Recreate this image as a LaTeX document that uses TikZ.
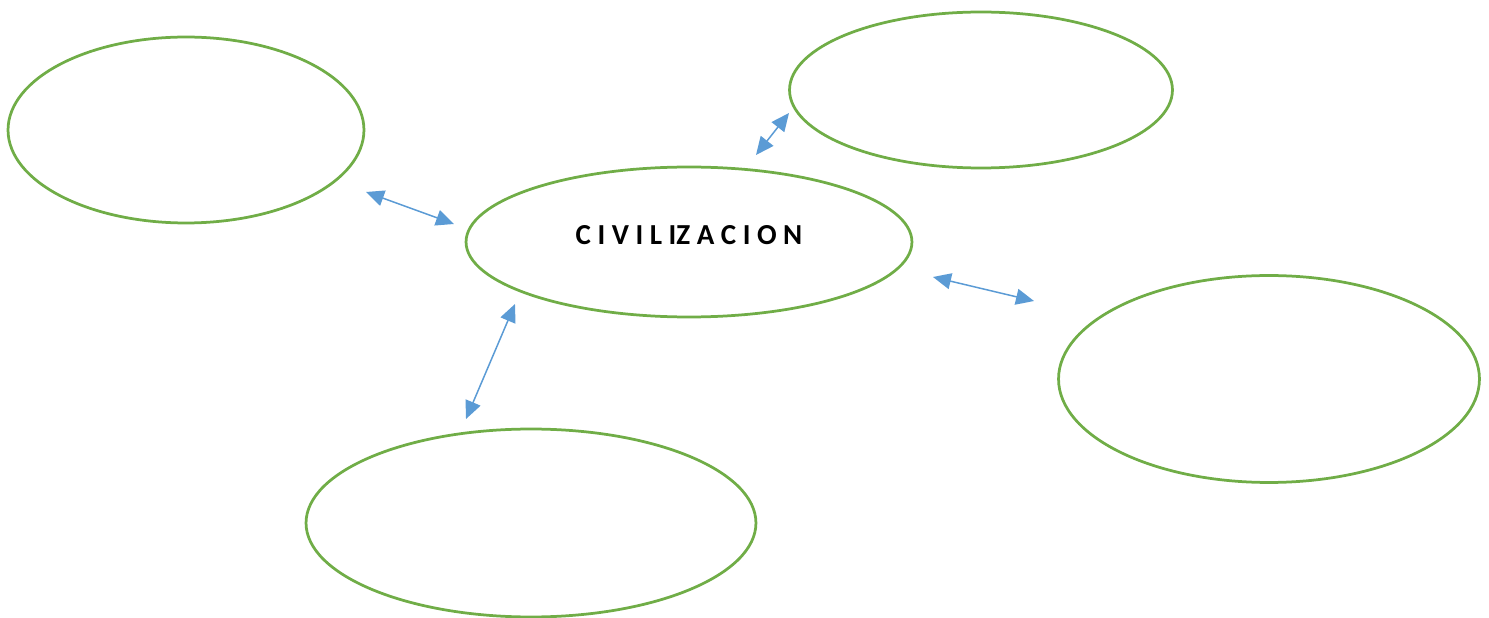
\documentclass[tikz,border=0pt]{standalone}
\usepackage{fontspec}
\setmainfont{Carlito}
\usepackage{tikz}
\usetikzlibrary{shapes.geometric, arrows.meta}
\usepackage{xcolor}

\definecolor{ovalgreen}{HTML}{70AD47}
\definecolor{linkblue}{HTML}{5B9BD5}

\tikzset{
    oval/.style={draw=ovalgreen, line width=0.055cm, ellipse, inner sep=0pt},
    link/.style={linkblue, line width=0.03cm,
        {Triangle[length=0.36cm, width=0.32cm]}-{Triangle[length=0.36cm, width=0.32cm]}}
}

\begin{document}
\begin{tikzpicture}[x=0.02cm, y=-0.02cm]

        \useasboundingbox (0,0) rectangle (1489,618);

        % ovals
        \node[oval, minimum width=7.12cm, minimum height=3.72cm] (past) at (186,130) {};
        \node[oval, minimum width=8.92cm, minimum height=3.0cm, font=\bfseries\fontsize{16.5pt}{18pt}\selectfont] (civ) at (689,242) {\raisebox{0.27cm}{C I V I L IZ A C I O N}};
        \node[oval, minimum width=7.66cm, minimum height=3.12cm] (upper) at (981,90) {};
        \node[oval, minimum width=8.42cm, minimum height=4.14cm] (right) at (1269,379) {};
        \node[oval, minimum width=9.0cm, minimum height=3.76cm] (lower) at (531,523) {};

        % free ends of the links
        \coordinate (p1) at (366,192);
        \coordinate (c1) at (454,224);
        \coordinate (c2) at (756,155);
        \coordinate (u1) at (789,113);
        \coordinate (c3) at (515,304);
        \coordinate (l1) at (466,419);
        \coordinate (c4) at (933,277);
        \coordinate (r1) at (1034,301);

        \draw[link] (p1) -- (c1);
        \draw[link] (c2) -- (u1);
        \draw[link] (c3) -- (l1);
        \draw[link] (c4) -- (r1);

\end{tikzpicture}
\end{document}
